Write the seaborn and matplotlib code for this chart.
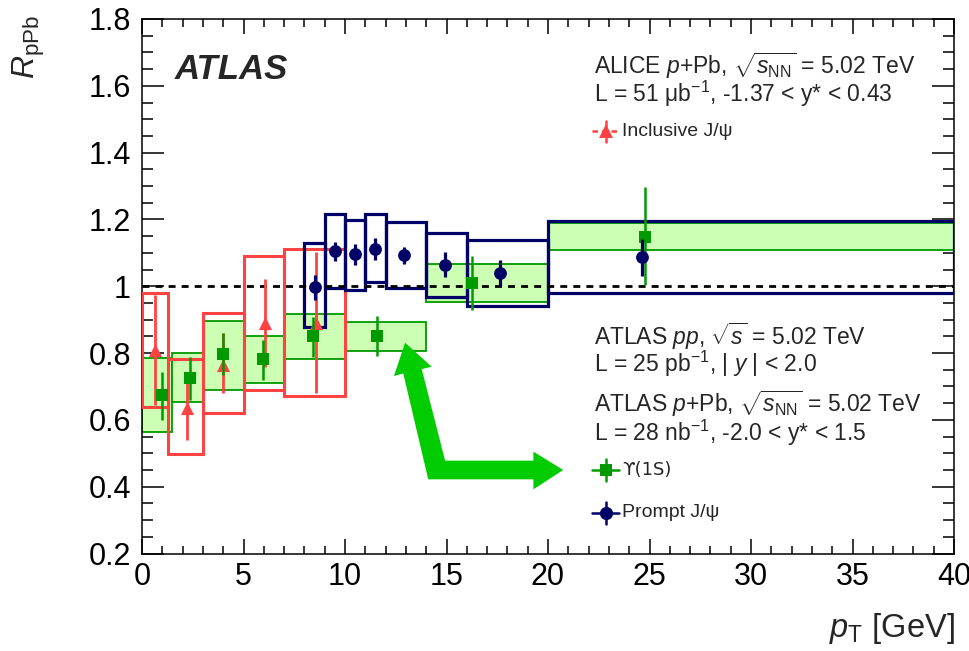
import numpy as np
import matplotlib
matplotlib.use("Agg")
import matplotlib.pyplot as plt
from matplotlib.ticker import MultipleLocator, FuncFormatter
from matplotlib.patches import Polygon
import seaborn as sns

# ALICE inclusive J/psi (p+Pb, 5.02 TeV)
alice_lo = [0.0, 1.3, 3.0, 5.0, 7.0]
alice_hi = [1.3, 3.0, 5.0, 7.0, 10.0]
alice_pt = [0.65, 2.2, 4.0, 6.05, 8.55]
alice_r = [0.809, 0.635, 0.764, 0.889, 0.889]
alice_stat_dn = [0.645, 0.540, 0.680, 0.759, 0.680]
alice_stat_up = [0.974, 0.740, 0.859, 1.021, 1.104]
alice_sys_dn = [0.640, 0.498, 0.620, 0.690, 0.670]
alice_sys_up = [0.981, 0.781, 0.921, 1.091, 1.112]

# ATLAS Upsilon(1S)
ups_lo = [0.0, 1.5, 3.0, 5.0, 7.0, 10.0, 14.0, 20.0]
ups_hi = [1.5, 3.0, 5.0, 7.0, 10.0, 14.0, 20.0, 40.0]
ups_pt = [1.0, 2.35, 4.0, 5.95, 8.4, 11.6, 16.25, 24.8]
ups_r = [0.675, 0.726, 0.796, 0.781, 0.851, 0.852, 1.009, 1.148]
ups_stat_dn = [0.600, 0.660, 0.734, 0.719, 0.789, 0.792, 0.929, 1.004]
ups_stat_up = [0.744, 0.789, 0.859, 0.839, 0.909, 0.911, 1.092, 1.296]
ups_sys_dn = [0.565, 0.653, 0.690, 0.710, 0.781, 0.807, 0.954, 1.109]
ups_sys_up = [0.785, 0.799, 0.897, 0.851, 0.917, 0.894, 1.067, 1.188]

# ATLAS prompt J/psi
jpsi_lo = [8.0, 9.0, 10.0, 11.0, 12.0, 14.0, 16.0, 20.0]
jpsi_hi = [9.0, 10.0, 11.0, 12.0, 14.0, 16.0, 20.0, 40.0]
jpsi_pt = [8.5, 9.5, 10.5, 11.5, 12.9, 14.95, 17.65, 24.65]
jpsi_r = [0.998, 1.106, 1.096, 1.112, 1.094, 1.064, 1.041, 1.087]
jpsi_stat_dn = [0.959, 1.076, 1.064, 1.079, 1.067, 1.027, 1.001, 1.031]
jpsi_stat_up = [1.035, 1.133, 1.126, 1.144, 1.118, 1.102, 1.079, 1.141]
jpsi_sys_dn = [0.879, 0.994, 0.990, 1.012, 0.994, 0.967, 0.941, 0.981]
jpsi_sys_up = [1.130, 1.216, 1.198, 1.215, 1.191, 1.160, 1.139, 1.195]

# outline of the green guide arrow (data coords)
arrow_x = [12.96, 14.27, 13.78, 14.93, 19.28, 19.28, 20.75, 19.28, 19.28, 14.10, 12.87, 12.41]
arrow_y = [0.831, 0.759, 0.752, 0.478, 0.478, 0.505, 0.450, 0.392, 0.422, 0.422, 0.739, 0.731]

RED = "#ff4242"
NAVY = "#000066"
GREEN = "#009a00"
GREEN_FILL = "#ccffb3"
ARROW = "#00cc00"


def draw_boxes(ax, lo, hi, dn, up, face, edge, lw, z):
    lo, hi, dn, up = map(np.asarray, (lo, hi, dn, up))
    ax.bar(lo, up - dn, width=hi - lo, bottom=dn, align="edge",
           facecolor=face, edgecolor=edge, linewidth=lw, zorder=z)


def draw_points(ax, pt, r, dn, up, color, marker, size, lw, z):
    ax.vlines(pt, dn, up, color=color, linewidth=lw, zorder=z)
    sns.scatterplot(x=pt, y=r, marker=marker, color=color, s=size,
                    linewidth=0, ax=ax, zorder=z + 0.1, legend=False)


def legend_mark(ax, fx, fy, color, marker, ms, dashed=False):
    tr = ax.transAxes
    ls = (0, (2.2, 1.6)) if dashed else "-"
    ax.plot([fx - 0.017, fx + 0.017], [fy, fy], color=color, lw=1.8, ls=ls,
            transform=tr, clip_on=False, zorder=6)
    ax.plot([fx, fx], [fy - 0.02, fy + 0.02], color=color, lw=1.8,
            transform=tr, clip_on=False, zorder=6)
    ax.plot([fx], [fy], marker=marker, ms=ms, color=color, mew=0,
            transform=tr, clip_on=False, zorder=7)


sns.set_theme(style="ticks")
plt.rcParams["font.family"] = ["Liberation Sans", "DejaVu Sans"]
plt.rcParams["mathtext.fontset"] = "custom"
plt.rcParams["mathtext.rm"] = "Liberation Sans"
plt.rcParams["mathtext.it"] = "Liberation Sans:italic"
plt.rcParams["mathtext.bf"] = "Liberation Sans:bold"

fig = plt.figure(figsize=(9.7, 6.51), dpi=100)
ax = fig.add_axes([142 / 970, 1 - 553.5 / 651, 812 / 970, 534.5 / 651])

# uncertainty boxes
draw_boxes(ax, ups_lo, ups_hi, ups_sys_dn, ups_sys_up, GREEN_FILL, GREEN, 1.3, 2)
draw_boxes(ax, alice_lo, alice_hi, alice_sys_dn, alice_sys_up, "none", RED, 2.2, 3)
draw_boxes(ax, jpsi_lo, jpsi_hi, jpsi_sys_dn, jpsi_sys_up, "none", NAVY, 2.3, 3.5)

ax.axhline(1.0, color="black", lw=2.0, ls=(0, (2.5, 2.2)), zorder=3.8)

ax.add_patch(Polygon(np.column_stack([arrow_x, arrow_y]), closed=True,
                     facecolor=ARROW, edgecolor="none", zorder=3.9))

draw_points(ax, alice_pt, alice_r, alice_stat_dn, alice_stat_up, RED, "^", 90, 2.0, 4)
draw_points(ax, ups_pt, ups_r, ups_stat_dn, ups_stat_up, GREEN, "s", 80, 1.8, 4.3)
draw_points(ax, jpsi_pt, jpsi_r, jpsi_stat_dn, jpsi_stat_up, NAVY, "o", 85, 2.3, 4.6)

# axes styling (ROOT-like)
ax.set_xlim(0, 40)
ax.set_ylim(0.2, 1.8)
ax.xaxis.set_major_locator(MultipleLocator(5))
ax.xaxis.set_minor_locator(MultipleLocator(1))
ax.yaxis.set_major_locator(MultipleLocator(0.2))
ax.yaxis.set_minor_locator(MultipleLocator(0.05))
ax.yaxis.set_major_formatter(FuncFormatter(lambda v, p: f"{v:g}"))
ax.xaxis.set_major_formatter(FuncFormatter(lambda v, p: f"{v:g}"))
ax.tick_params(which="both", direction="in", top=True, right=True,
               width=1.1, color="black", labelsize=22, labelcolor="black")
ax.tick_params(axis="x", which="major", length=11, pad=6)
ax.tick_params(axis="x", which="minor", length=5.5)
ax.tick_params(axis="y", which="major", length=16, pad=8)
ax.tick_params(axis="y", which="minor", length=8)
for sp in ax.spines.values():
    sp.set_linewidth(1.1)
    sp.set_color("black")
ax.set_xlabel("")
ax.set_ylabel("")

fig.text(955 / 970, 1 - 637 / 651, r"$p_{\mathrm{T}}$ [GeV]", fontsize=23.5,
         ha="right", va="baseline")
fig.text(29 / 970, 1 - 15 / 651, r"$R_{\mathrm{pPb}}$", fontsize=23,
         rotation=90, ha="center", va="top")

tr = ax.transAxes
ax.text(0.0406, 0.905, "ATLAS", fontsize=25, fontweight="bold",
        fontstyle="italic", va="center", transform=tr)

hdr = dict(fontsize=16.5, va="center", transform=tr)
ax.text(0.557, 0.912, r"ALICE $p$+Pb, $\sqrt{s_{\mathrm{NN}}}$ = 5.02 TeV", **hdr)
ax.text(0.557, 0.860, r"L = 51 μb$^{-1}$, -1.37 < y* < 0.43", **hdr)
ax.text(0.557, 0.407, r"ATLAS $pp$, $\sqrt{s}$ = 5.02 TeV", **hdr)
ax.text(0.557, 0.354, r"L = 25 pb$^{-1}$, | $y$ | < 2.0", **hdr)
ax.text(0.557, 0.280, r"ATLAS $p$+Pb, $\sqrt{s_{\mathrm{NN}}}$ = 5.02 TeV", **hdr)
ax.text(0.557, 0.225, r"L = 28 nb$^{-1}$, -2.0 < y* < 1.5", **hdr)

leg = dict(fontsize=14, va="center", transform=tr)
legend_mark(ax, 0.571, 0.790, RED, "^", 9.5, dashed=True)
ax.text(0.591, 0.790, "Inclusive J/ψ", **leg)
legend_mark(ax, 0.571, 0.156, GREEN, "s", 9)
ax.text(0.591, 0.156, "ϒ(1S)", fontsize=13, va="center", transform=tr,
        family=["DejaVu Sans"])
legend_mark(ax, 0.571, 0.076, NAVY, "o", 9.5)
ax.text(0.591, 0.076, "Prompt J/ψ", **leg)

fig.savefig("out.png", dpi=100)
